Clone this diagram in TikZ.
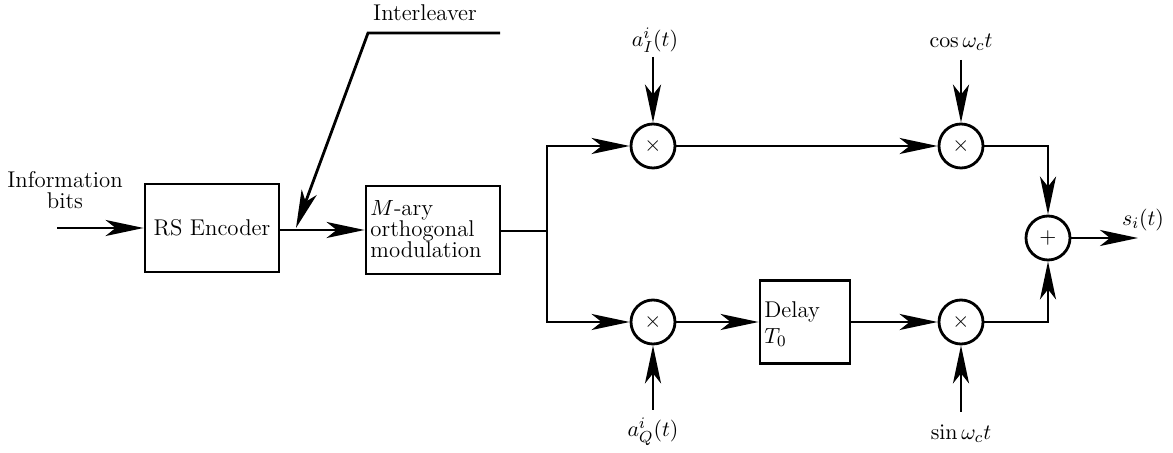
\documentclass[tikz,border=0pt]{standalone}
\usetikzlibrary{arrows.meta}
\begin{document}
\begin{tikzpicture}[x=0.5pt,y=-0.5pt,
  every node/.style={font=\fontsize{11.4}{10.5}\selectfont},
  wire/.style={line width=1.4pt},
  arr/.style={wire,-{Stealth[length=19pt,width=8pt,inset=5pt]}},
  blk/.style={draw,line width=1.4pt,minimum width=67pt,minimum height=44pt,inner sep=0pt},
  mult/.style={draw,circle,line width=1.4pt,minimum size=22pt,inner sep=0pt}]
\useasboundingbox (0,0) rectangle (1173,453);
% blocks
\node[blk] (rs) at (212,228) {};
\node at (rs.center) {RS Encoder};
\node[blk] (mary) at (433,230) {};
\node[align=left,anchor=west,inner sep=0pt] (marytxt) at (370,229) {$M$-ary\\orthogonal\\modulation};
\node[blk,minimum width=45pt,minimum height=41.5pt] (delay) at (805,322) {};
\node[align=left,anchor=west,inner sep=0pt,font=\fontsize{11.4}{13}\selectfont] (delaytxt) at (764,324) {Delay\\$T_0$};
% multipliers
\node[mult] (m1) at (653,146) {$\times$};
\node[mult] (m2) at (961,146) {$\times$};
\node[mult] (m3) at (653,322) {$\times$};
\node[mult] (m4) at (961,322) {$\times$};
\node[mult] (sum) at (1048,238) {$+$};
% labels
\node[align=center] (info) at (65,190) {Information\\bits};
\node (ilvtxt) at (425,13) {Interleaver};
\node (aI) at (655,40) {$a_I^i(t)$};
\node (cs) at (961,42) {$\cos\omega_c t$};
\node (aQ) at (653,432) {$a_Q^i(t)$};
\node (sn) at (961,434) {$\sin\omega_c t$};
\node (si) at (1143,220) {$s_i(t)$};
% coordinates
\coordinate (in) at (57,228);
\coordinate (ilv1) at (500,33);
\coordinate (ilv2) at (368,33);
\coordinate (junc) at (296,228);
\coordinate (split) at (547,231);
\coordinate (aIs) at (653,57);
\coordinate (css) at (961,60);
\coordinate (aQs) at (653,410);
\coordinate (sns) at (961,412);
\coordinate (out) at (1138,238);
% connectors
\draw[arr] (in) -- (rs.west);
\draw[arr] (rs.east |- mary.west) -- (mary.west);
\draw[arr] (ilv1) -- (ilv2) -- (junc);
\draw[wire] (mary.east |- split) -- (split);
\draw[arr] (split) |- (m1.west);
\draw[arr] (split) |- (m3.west);
\draw[arr] (m1.east) -- (m2.west);
\draw[arr] (m3.east) -- (delay.west);
\draw[arr] (delay.east) -- (m4.west);
\draw[arr] (aIs) -- (m1.north);
\draw[arr] (css) -- (m2.north);
\draw[arr] (aQs) -- (m3.south);
\draw[arr] (sns) -- (m4.south);
\draw[arr] (m2.east) -| (sum.north);
\draw[arr] (m4.east) -| (sum.south);
\draw[arr] (sum.east) -- (out);
\end{tikzpicture}
\end{document}
